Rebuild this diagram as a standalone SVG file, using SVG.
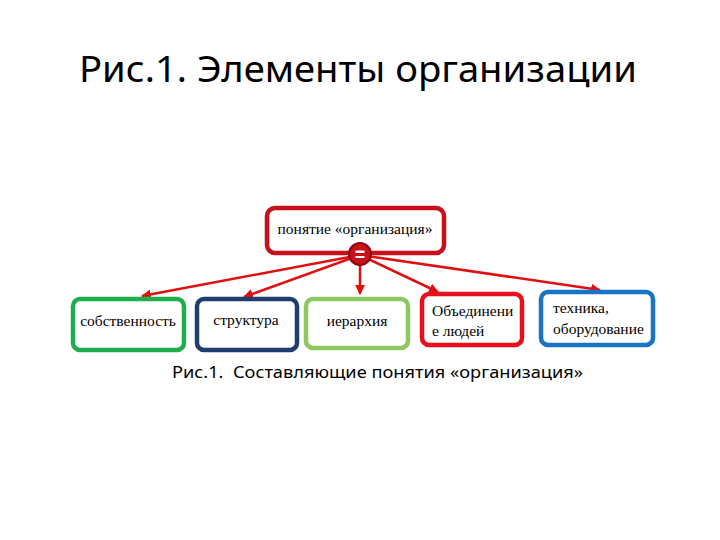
<svg xmlns="http://www.w3.org/2000/svg" width="720" height="540" viewBox="0 0 720 540">
<defs>
<style>
.title{font-family:"Noto Sans","Open Sans",sans-serif;font-size:37px;fill:#000}
.cap{font-family:"Noto Sans","Open Sans",sans-serif;font-size:17px;fill:#000}
.t{font-family:"Liberation Serif",serif;font-size:15.5px;fill:#000}
.box{fill:#fff;stroke-width:4.5}
.conn{stroke:#e01010;stroke-width:2.5;fill:none;marker-end:url(#ah)}
</style>
<marker id="ah" viewBox="0 0 10 10" refX="9" refY="5" markerWidth="4" markerHeight="4" orient="auto" markerUnits="strokeWidth">
<path d="M0,0 L10,5 L0,10 z" fill="#e01010"/>
</marker>
</defs>
<rect width="720" height="540" fill="#fff"/>
<text class="title" x="358" y="82" text-anchor="middle" textLength="558" lengthAdjust="spacingAndGlyphs">Рис.1. Элементы организации</text>

<g id="connectors">
<line class="conn" x1="360" y1="255" x2="142" y2="296"/>
<line class="conn" x1="360" y1="255" x2="244" y2="297"/>
<line class="conn" x1="360" y1="255" x2="360" y2="294"/>
<line class="conn" x1="360" y1="255" x2="438" y2="292"/>
<line class="conn" x1="360" y1="255" x2="600" y2="290"/>
</g>

<g id="n0">
<rect class="box" x="267" y="208" width="177" height="45" rx="8" stroke="#c8101a" stroke-width="5.5"/>
<text class="t" x="355" y="234" text-anchor="middle">понятие «организация»</text>
</g>
<g id="hub">
<circle cx="360" cy="254" r="11" fill="#c8101a" stroke="#900010" stroke-width="2"/>
<rect x="355.5" y="250.5" width="9" height="2.5" fill="#fff"/>
<rect x="355.5" y="256" width="9" height="2" fill="#fff"/>
</g>
<g id="n1">
<rect class="box" x="73" y="299" width="111" height="51" rx="7" stroke="#1fae4e"/>
<text class="t" x="128" y="326" text-anchor="middle">собственность</text>
</g>
<g id="n2">
<rect class="box" x="197" y="299" width="100" height="51" rx="7" stroke="#1f3d6e"/>
<text class="t" x="246" y="325" text-anchor="middle">структура</text>
</g>
<g id="n3">
<rect class="box" x="306" y="299" width="102" height="49" rx="7" stroke="#8dc860"/>
<text class="t" x="357" y="326" text-anchor="middle">иерархия</text>
</g>
<g id="n4">
<rect class="box" x="422" y="294" width="100" height="51" rx="7" stroke="#e8101a" stroke-width="5.5"/>
<text class="t" x="432" y="316">Объединени</text>
<text class="t" x="432" y="336">е людей</text>
</g>
<g id="n5">
<rect class="box" x="541" y="292" width="112" height="53" rx="7" stroke="#1a74c4"/>
<text class="t" x="553" y="313">техника,</text>
<text class="t" x="553" y="334">оборудование</text>
</g>

<text class="cap" x="172" y="378" xml:space="preserve" textLength="411" lengthAdjust="spacingAndGlyphs">Рис.1.  Составляющие понятия «организация»</text>
</svg>
